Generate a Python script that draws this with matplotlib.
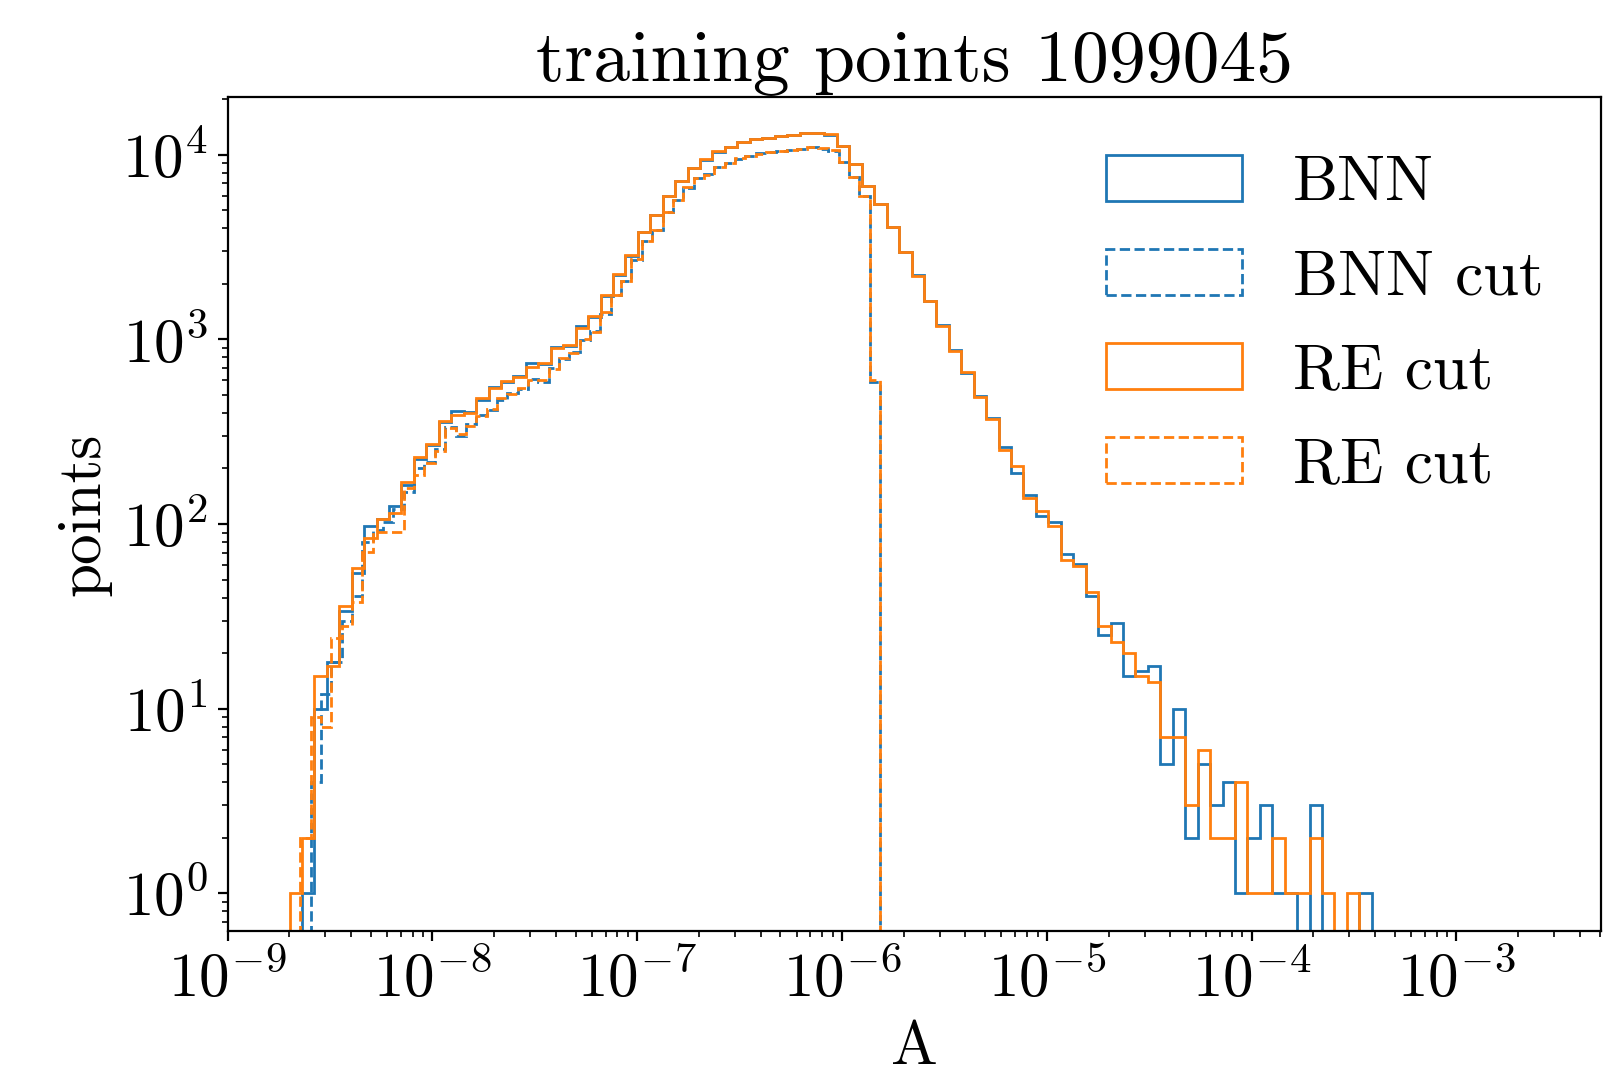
import numpy as np
import matplotlib
matplotlib.use("Agg")
import matplotlib.pyplot as plt

plt.rcParams['font.family'] = 'cmr10'
plt.rcParams['mathtext.fontset'] = 'cm'
plt.rcParams['axes.formatter.use_mathtext'] = True

# log10 range of the bin edges (full data and cut data)
full_range = (-8.6982, -3.4136)   # 87 bins
cut_range = (-8.6455, -5.8154)    # 56 bins

bnn = [0, 1, 10, 18, 34, 54, 98, 106, 125, 163, 225,
       268, 358, 410, 405, 470, 550, 590, 635, 745, 735, 905, 925, 1180, 1320,
       1720, 2230, 2830, 3800, 4700, 5950, 7200, 8480, 9400, 10400, 11000, 11750,
       12150, 12350, 12600, 12780, 13050, 13050, 12850, 11150, 8950, 6820, 5420, 4060, 2990,
       2230, 1610, 1195, 875, 660, 495, 375,
       263, 188, 144, 111, 102, 69, 61, 41, 25, 29,
       15, 16, 17, 5, 10, 2, 5, 3, 4, 1,
       2, 3, 1, 1, 0, 3, 0, 0, 0, 1]

re_full = [1, 2, 15, 17, 36, 58, 84, 106, 115, 170, 232,
           272, 363, 390, 401, 480, 544, 598, 629, 713, 743, 896, 933, 1150, 1340,
           1742, 2256, 2870, 3840, 4725, 6010, 7250, 8530, 9450, 10450, 11080, 11790,
           12200, 12400, 12650, 12820, 13100, 13100, 12900, 11100, 8900, 6800, 5400, 4080, 2970,
           2217, 1622, 1188, 867, 669, 490, 370,
           252, 206, 138, 117, 98, 64, 59, 43, 28, 23,
           20, 15, 14, 7, 7, 3, 6, 2, 2, 4,
           1, 1, 2, 1, 1, 2, 1, 0, 1, 0]

bnn_cut = [0, 4, 12, 18, 30, 41, 80, 93, 103, 120,
           150, 200, 218, 254, 335, 300, 350, 390, 415, 470,
           510, 540, 610, 590, 700, 780, 850, 990, 1110, 1380,
           1730, 2070, 2700, 3400, 3900, 4900, 5700, 6650, 7480, 7850,
           8550, 9050, 9550, 9880, 10180, 10300, 10480, 10600, 10800, 10980,
           10800, 10550, 9150, 7580, 5950, 590]

re_cut = [2, 9, 8, 24, 28, 38, 71, 91, 91, 91,
          156, 185, 215, 250, 330, 308, 340, 385, 420, 480,
          505, 544, 604, 600, 690, 791, 842, 1003, 1102, 1400,
          1742, 2083, 2718, 3430, 3920, 4925, 5680, 6680, 7500, 7820,
          8580, 9040, 9580, 9850, 10150, 10340, 10450, 10640, 10770, 10960,
          10830, 10570, 9190, 7620, 5990, 600]

edges_full = np.logspace(full_range[0], full_range[1], len(bnn) + 1)
edges_cut = np.logspace(cut_range[0], cut_range[1], len(bnn_cut) + 1)
c_full = np.sqrt(edges_full[:-1] * edges_full[1:])
c_cut = np.sqrt(edges_cut[:-1] * edges_cut[1:])

fig = plt.figure(figsize=(8.04, 5.41), dpi=200)
ax = fig.add_axes([0.1416, 0.1398, 0.9957 - 0.1416, 0.910 - 0.1398])

ax.hist(c_full, bins=edges_full, weights=bnn, histtype='step', color='C0',
        ls='-', label='BNN', log=True)
ax.hist(c_cut, bins=edges_cut, weights=bnn_cut, histtype='step', color='C0',
        ls='--', label='BNN cut', log=True)
ax.hist(c_full, bins=edges_full, weights=re_full, histtype='step', color='C1',
        ls='-', label='RE cut', log=True)
ax.hist(c_cut, bins=edges_cut, weights=re_cut, histtype='step', color='C1',
        ls='--', label='RE cut', log=True)

ax.set_xscale('log')
ax.set_yscale('log')
ax.set_xlim(1e-9, 10 ** -2.294)
ax.set_ylim(0.627, 20470)

ax.tick_params(labelsize=22)
ax.set_title('training points 1099045', fontsize=26.5)
ax.set_xlabel('A', fontsize=22.5)
ax.set_ylabel('points', fontsize=22)
ax.legend(fontsize=23, frameon=False, loc='upper right',
          handlelength=2.13, handleheight=0.73, labelspacing=0.56)

fig.savefig('out.png', dpi=200)
